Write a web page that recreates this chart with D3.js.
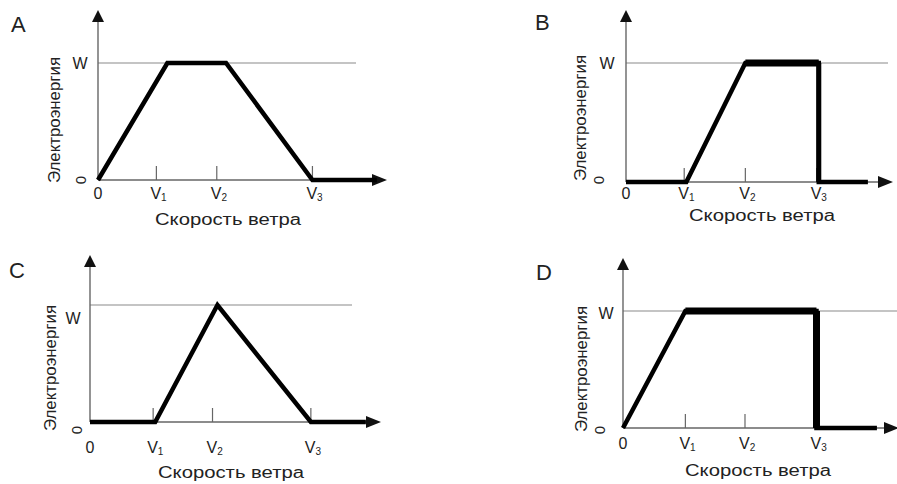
<!DOCTYPE html>
<html>
<head>
<meta charset="utf-8">
<script src="https://cdn.jsdelivr.net/npm/d3@7"></script>
<style>
  body { margin: 0; background: #fff; }
  text { font-family: "Liberation Sans", Arial, sans-serif; fill: #222; }
</style>
</head>
<body>
<div id="chart"></div>
<script>
const panelNames = ['A', 'B', 'C', 'D'];
const yTitle = 'Электроэнергия';
const xTitle = 'Скорость ветра';
const tickNames = ['0', 'V1', 'V2', 'V3'];

// wind speed positions of 0, V1, V2, V3 (0..100 along each axis)
const ticksA = [0, 20.2, 41.1, 74.2];
const ticksB = [0, 21.8, 44.7, 71.4];
const ticksC = [0, 21.7, 42.1, 75.9];
const ticksD = [0, 22.6, 44.2, 70.1];

// power curves: [speed, power as share of W]
const curveA = [[0, 0], [24.0, 1], [44.3, 1], [74.2, 0], [96.5, 0]];
const curveB = [[0, 0], [22.6, 0], [44.7, 1], [72.2, 1], [72.2, 0], [90.6, 0]];
const curveC = [[0, 0], [22.4, 0], [43.8, 1], [75.9, 0], [94.8, 0]];
const curveD = [[0, 0], [22.6, 1], [70.1, 1], [70.1, 0], [92.0, 0]];

// frame of each small chart
const layout = {
  A: { ox: 98, xEnd: 387, base: 180, wY: 63, top: 10, wEnd: 356, lab: 19, tit: 45, tx: 228, yx: 54, yc: 120, wx: 80, wy: 63, zx: 81, zy: 180, lx: 11, ly: 32, heavy: [] },
  B: { ox: 626, xEnd: 893, base: 182, wY: 63, top: 10, wEnd: 888, lab: 17, tit: 39, tx: 762, yx: 580, yc: 118, wx: 607, wy: 63, zx: 599, zy: 180, lx: 535, ly: 30, heavy: [2, 3] },
  C: { ox: 90, xEnd: 381, base: 422, wY: 305, top: 255, wEnd: 352, lab: 31, tit: 56, tx: 231, yx: 50, yc: 368, wx: 73, wy: 318, zx: 77, zy: 430, lx: 9, ly: 278, heavy: [] },
  D: { ox: 623, xEnd: 899, base: 428, wY: 311, top: 258, wEnd: 897, lab: 21, tit: 48, tx: 758, yx: 581, yc: 369, wx: 606, wy: 313, zx: 600, zy: 430, lx: 536, ly: 280, heavy: [1, 2] }
};
const ticksBy = { A: ticksA, B: ticksB, C: ticksC, D: ticksD };
const curveBy = { A: curveA, B: curveB, C: curveC, D: curveD };

const svg = d3.select('#chart').append('svg')
  .attr('width', 897)
  .attr('height', 484);

panelNames.forEach(name => {
  const L = layout[name];
  const ticks = ticksBy[name];
  const curve = curveBy[name];
  const g = svg.append('g');

  const x = d3.scaleLinear().domain([0, 100]).range([L.ox, L.xEnd]);
  const y = d3.scaleLinear().domain([0, 1]).range([L.base, L.wY]);

  // W reference line
  g.append('line')
    .attr('x1', x(0)).attr('x2', L.wEnd)
    .attr('y1', y(1)).attr('y2', y(1))
    .attr('stroke', '#8a8a8a').attr('stroke-width', 1.2);

  // axes
  g.append('line')
    .attr('x1', x(0)).attr('x2', x(0))
    .attr('y1', y(0)).attr('y2', L.top + 10)
    .attr('stroke', '#666').attr('stroke-width', 1.4);
  g.append('line')
    .attr('x1', x(0)).attr('x2', x(100) - 12)
    .attr('y1', y(0)).attr('y2', y(0))
    .attr('stroke', '#666').attr('stroke-width', 1.4);
  g.append('path')
    .attr('d', `M${x(0)},${L.top} l-6,12 l12,0 z`)
    .attr('fill', '#111');
  g.append('path')
    .attr('d', `M${x(100)},${y(0)} l-15,-6 l0,12 z`)
    .attr('fill', '#111');

  // tick marks at V1..V3
  g.selectAll('.tick')
    .data(ticks.slice(1))
    .enter().append('line')
    .attr('x1', d => x(d)).attr('x2', d => x(d))
    .attr('y1', y(0)).attr('y2', y(0) - 14)
    .attr('stroke', '#666').attr('stroke-width', 1.2);

  // curve
  const line = d3.line().x(d => x(d[0])).y(d => y(d[1]));
  g.append('path')
    .datum(curve)
    .attr('d', line)
    .attr('fill', 'none')
    .attr('stroke', '#000')
    .attr('stroke-width', 4.5)
    .attr('stroke-linejoin', 'miter');
  if (L.heavy.length) {
    g.append('path')
      .datum(curve.slice(L.heavy[0], L.heavy[1] + 1))
      .attr('d', line)
      .attr('fill', 'none')
      .attr('stroke', '#000')
      .attr('stroke-width', 7);
    g.append('path')
      .datum(curve.slice(L.heavy[1], L.heavy[1] + 2))
      .attr('d', line)
      .attr('fill', 'none')
      .attr('stroke', '#000')
      .attr('stroke-width', name === 'D' ? 7 : 5);
  }

  // tick labels
  ticks.forEach((t, i) => {
    const lbl = tickNames[i];
    const tx = g.append('text')
      .attr('x', x(t) + (i ? -6 : 0))
      .attr('y', y(0) + L.lab)
      .attr('text-anchor', i ? 'start' : 'middle')
      .style('font-size', '16px');
    tx.append('tspan').text(lbl[0]);
    if (lbl.length > 1) {
      tx.append('tspan').text(lbl.slice(1))
        .style('font-size', '10px')
        .attr('dy', 2);
    }
  });

  // axis titles
  g.append('text')
    .attr('x', L.tx).attr('y', y(0) + L.tit)
    .attr('text-anchor', 'middle')
    .attr('textLength', 146)
    .attr('lengthAdjust', 'spacingAndGlyphs')
    .style('font-size', '16px')
    .text(xTitle);
  g.append('text')
    .attr('transform', `translate(${L.yx + 6},${L.yc}) rotate(-90)`)
    .attr('text-anchor', 'middle')
    .attr('textLength', 126)
    .attr('lengthAdjust', 'spacingAndGlyphs')
    .style('font-size', '17px')
    .text(yTitle);

  // W and 0 on the power axis
  g.append('text')
    .attr('x', L.wx).attr('y', L.wy + 6)
    .attr('text-anchor', 'middle')
    .style('font-size', '16px')
    .text('W');
  g.append('text')
    .attr('transform', `translate(${L.zx + 5},${L.zy}) rotate(-90)`)
    .attr('text-anchor', 'middle')
    .style('font-size', '15px')
    .text('0');

  // panel letter
  g.append('text')
    .attr('x', L.lx).attr('y', L.ly)
    .style('font-size', '22px')
    .text(name);
});
</script>
</body>
</html>
